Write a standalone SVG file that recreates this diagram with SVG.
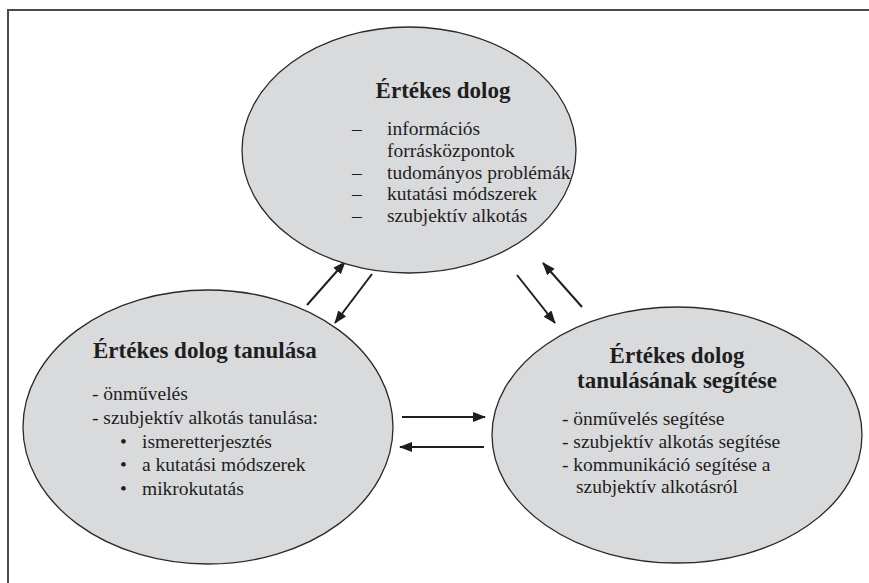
<svg xmlns="http://www.w3.org/2000/svg" width="869" height="583" viewBox="0 0 869 583">
<style>
.bg{fill:#fff}
.frame{fill:none;stroke:#4a4a4a;stroke-width:2}
.node{fill:#d9dadc;stroke:#2a2a2a;stroke-width:1.3}
.t{font-family:"Liberation Serif","Times New Roman",serif;fill:#1e1e1e}
.h{font-size:23px;font-weight:bold}
.i{font-size:19.5px}
.c{text-anchor:middle}
.arr{stroke:#1e1e1e;stroke-width:2;fill:none;marker-end:url(#ah)}
</style>
<defs>
<marker id="ah" markerUnits="userSpaceOnUse" markerWidth="14" markerHeight="12" refX="12" refY="5" orient="auto">
<path d="M0,0 L13,5 L0,10 Z" fill="#1e1e1e"/>
</marker>
</defs>
<rect class="bg" x="0" y="0" width="869" height="583"/>
<path class="frame" d="M8,583 V10 H869"/>
<g id="connectors">
<line class="arr" x1="307" y1="305" x2="345" y2="262"/>
<line class="arr" x1="372" y1="274" x2="335" y2="323"/>
<line class="arr" x1="517" y1="275" x2="555" y2="323"/>
<line class="arr" x1="582" y1="307" x2="543" y2="263"/>
<line class="arr" x1="402" y1="417" x2="485" y2="417"/>
<line class="arr" x1="484" y1="447" x2="400" y2="447"/>
</g>
<g id="node-top">
<ellipse class="node" cx="409" cy="150" rx="167" ry="123"/>
<text class="t h c" x="443" y="98">Értékes dolog</text>
<text class="t i" x="352" y="135">–</text>
<text class="t i" x="387" y="135">információs</text>
<text class="t i" x="387" y="157">forrásközpontok</text>
<text class="t i" x="352" y="179">–</text>
<text class="t i" x="387" y="179">tudományos problémák</text>
<text class="t i" x="352" y="200">–</text>
<text class="t i" x="387" y="200">kutatási módszerek</text>
<text class="t i" x="352" y="222">–</text>
<text class="t i" x="387" y="222">szubjektív alkotás</text>
</g>
<g id="node-left">
<ellipse class="node" cx="208" cy="427" rx="185" ry="137"/>
<text class="t h" x="93" y="358">Értékes dolog tanulása</text>
<text class="t i" x="92" y="400">- önművelés</text>
<text class="t i" x="92" y="424">- szubjektív alkotás tanulása:</text>
<text class="t i" x="120" y="448">•</text>
<text class="t i" x="142" y="448">ismeretterjesztés</text>
<text class="t i" x="120" y="471">•</text>
<text class="t i" x="142" y="471">a kutatási módszerek</text>
<text class="t i" x="120" y="495">•</text>
<text class="t i" x="142" y="495">mikrokutatás</text>
</g>
<g id="node-right">
<ellipse class="node" cx="677" cy="435" rx="185" ry="128"/>
<text class="t h c" x="677" y="363">Értékes dolog</text>
<text class="t h c" x="677" y="388">tanulásának segítése</text>
<text class="t i" x="562" y="425">- önművelés segítése</text>
<text class="t i" x="562" y="448">- szubjektív alkotás segítése</text>
<text class="t i" x="562" y="471">- kommunikáció segítése a</text>
<text class="t i" x="576" y="493">szubjektív alkotásról</text>
</g>
</svg>
